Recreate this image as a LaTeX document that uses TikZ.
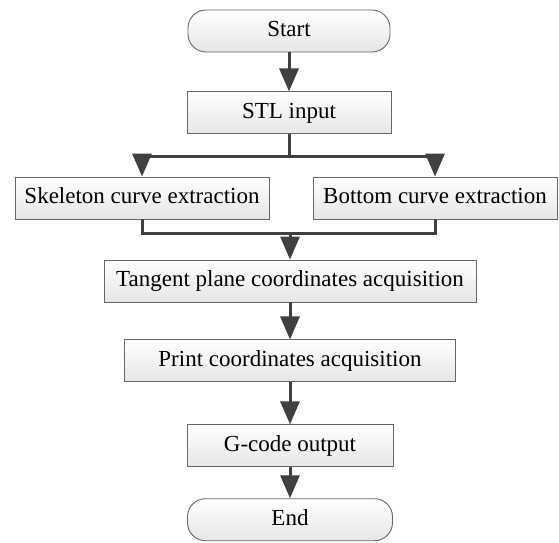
\documentclass[tikz,border=0pt]{standalone}
\usepackage{fontspec}
\setmainfont{Liberation Serif}
\newfontfamily\labelfont{Liberation Serif}
\usepackage{tikz}
\usetikzlibrary{positioning,calc}
\usetikzlibrary{arrows.meta}
\colorlet{boxgray}{gray!20}
\colorlet{linegray}{black!75}
\tikzstyle{arrow} = [line width=3pt,draw=linegray,-{Triangle[length=23pt,width=19pt]}]
\tikzstyle{link} = [line width=3pt,draw=linegray]

\begin{document}
\begin{tikzpicture}[x=1pt,y=1pt,
	process/.style={rectangle, draw=black!60, line width=0.9pt, top color=white, bottom color=boxgray, minimum height=42pt, inner sep=0pt, text height=16pt, text depth=5pt, font=\labelfont\fontsize{23}{27}\selectfont, anchor=center, align=center},
	terminal/.style={process, rounded corners=18pt}]
		
			\useasboundingbox (0,0) rectangle (559,-542);
			
			% STEPS
			
			\node [terminal, minimum width=202pt] (start) at (289,-31) {Start};
			\node [process, minimum width=204pt, below=39pt of start] (stl) {STL input};
			\node [process, minimum width=254pt] (skeleton) at (142,-198) {Skeleton curve extraction};
			\node [process, minimum width=244pt] (bottom) at (435,-198) {Bottom curve extraction};
			\node [process, minimum width=372pt] (tangent) at (290,-281) {Tangent plane coordinates acquisition};
			\node [process, minimum width=331pt, below=37pt of tangent] (print) {Print coordinates acquisition};
			\node [process, minimum width=206pt, below=42pt of print] (gcode) {G-code output};
			\node [terminal, minimum width=205pt, below=31pt of gcode] (finish) {End};
			
			% ARROWS
			
			\coordinate (split) at ($(stl.south)+(0,-22)$);
			\coordinate (merge) at ($(tangent.north)+(0,26)$);
			
			\draw [arrow] (start) -- (stl);
			\draw [link] (stl) -- (split);
			\draw [arrow] (split) -| (skeleton);
			\draw [arrow] (split) -| (bottom);
			\draw [link] (skeleton.south) |- (merge) -| (bottom.south);
			\draw [arrow] (merge) -- (tangent);
			\draw [arrow] (tangent) -- (print);
			\draw [arrow] (print) -- (gcode);
			\draw [arrow] (gcode) -- (finish);
			
		\end{tikzpicture}
\end{document}
